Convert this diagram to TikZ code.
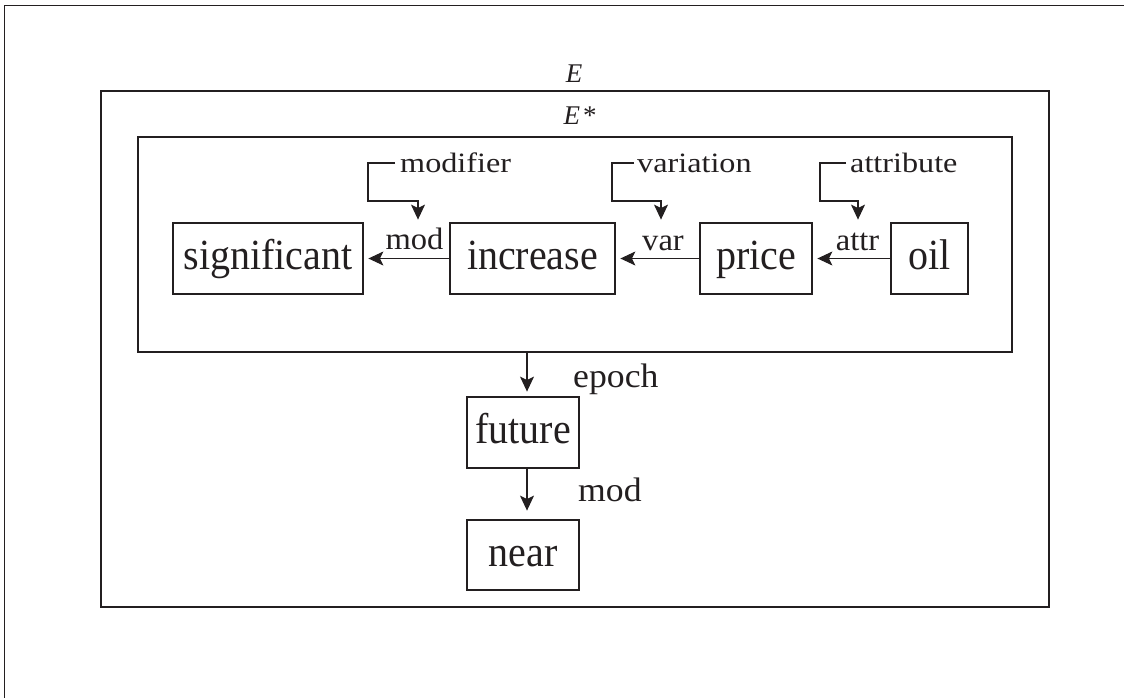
\documentclass[tikz,border=0pt]{standalone}
\usepackage{fontspec}
\setmainfont{Liberation Serif}
\newfontfamily\bigfont[FakeStretch=0.93]{Liberation Serif}
\newfontfamily\brkfont[FakeStretch=1.15]{Liberation Serif}
\newfontfamily\arrfont[FakeStretch=1.05]{Liberation Serif}
\usetikzlibrary{arrows.meta}
\definecolor{ink}{RGB}{35,31,32}
\begin{document}
\begin{tikzpicture}[x=1pt,y=-1pt,
  box/.style={draw=ink, line width=2.8pt, inner sep=0pt, text=ink,
    font=\bigfont\fontsize{43}{50}\selectfont, text height=30pt, text depth=8pt,
    minimum height=71pt},
  frame/.style={draw=ink, line width=2.9pt, inner sep=0pt},
  brk/.style={font=\brkfont\fontsize{28}{32}\selectfont, inner sep=0pt, text=ink},
  lbl/.style={font=\arrfont\fontsize{31}{35}\selectfont, inner sep=0pt, text=ink},
  lblb/.style={font=\arrfont\fontsize{34}{38}\selectfont, inner sep=0pt, text=ink},
  elbl/.style={font=\fontsize{27}{31}\selectfont, inner sep=0pt, text=ink, anchor=base},
  arr/.style={draw=ink, line width=1.1pt, -{Stealth[length=15pt,width=14pt,inset=3.5pt]}}
]
\useasboundingbox (0,0) rectangle (1124,697);
\fill[white] (0,0) rectangle (1124,697);
% page frame
\draw[ink, line width=1.8pt] (1130,5.5) -- (4.5,5.5) -- (4.5,705);

% outer boxes
\node[frame, minimum width=948pt, minimum height=516pt] (E) at (575,349) {};
\node[frame, minimum width=874pt, minimum height=215pt] (Es) at (575,244.5) {};
\node[elbl] (Elbl) at (574,82) {\textit{E}};
\node[elbl] (Eslbl) at (580,124) {\textit{E}\hspace{3pt}*};

% word boxes
\node[box, minimum width=190pt] (sig) at (268,258.5) {significant};
\node[box, minimum width=165pt] (inc) at (532.5,258.5) {increase};
\node[box, minimum width=112pt] (price) at (756,258.5) {price};
\node[box, minimum width=77pt] (oil) at (929.5,258.5) {oil};
\node[box, minimum width=112pt] (future) at (523,432.5) {future};
\node[box, minimum width=112pt, minimum height=70pt] (near) at (523,555) {near};

% horizontal relations
\draw[arr, shorten >=4pt] (inc.west) -- (sig.east);
\draw[arr, shorten >=4pt] (price.west) -- (inc.east);
\draw[arr, shorten >=4pt] (oil.west) -- (price.east);
\node[lbl, anchor=base] (lmod) at (414.5,249) {mod};
\node[lbl, anchor=base] (lvar) at (663,250) {var};
\node[lbl, anchor=base] (lattr) at (857.5,250) {attr};

% bracket labels
\node[brk, anchor=base west] (lmodifier) at (400,172) {modifier};
\node[brk, anchor=base west] (lvariation) at (637,172) {variation};
\node[brk, anchor=base west] (lattribute) at (850,172) {attribute};
\coordinate (b1) at (368,163); \coordinate (b1e) at (418,201);
\coordinate (b2) at (612,163); \coordinate (b2e) at (661,201);
\coordinate (b3) at (820,163); \coordinate (b3e) at (858,201);
\draw[arr, shorten >=2pt] ([xshift=-5pt]lmodifier.west |- b1) -- (b1) |- (b1e) -- (b1e |- inc.north);
\draw[arr, shorten >=2pt] ([xshift=-3pt]lvariation.west |- b2) -- (b2) |- (b2e) -- (b2e |- inc.north);
\draw[arr, shorten >=2pt] ([xshift=-4pt]lattribute.west |- b3) -- (b3) |- (b3e) -- (b3e |- price.north);

% vertical relations
\coordinate (ep) at (527,352);
\draw[arr, shorten >=4pt] (Es.south -| ep) -- (future.north -| ep);
\draw[arr, shorten >=8pt] (future.south -| ep) -- (near.north -| ep);
\node[lblb, anchor=base west] (lepoch) at (573,387) {epoch};
\node[lblb, anchor=base west] (lmod2) at (578,501) {mod};
\end{tikzpicture}
\end{document}
